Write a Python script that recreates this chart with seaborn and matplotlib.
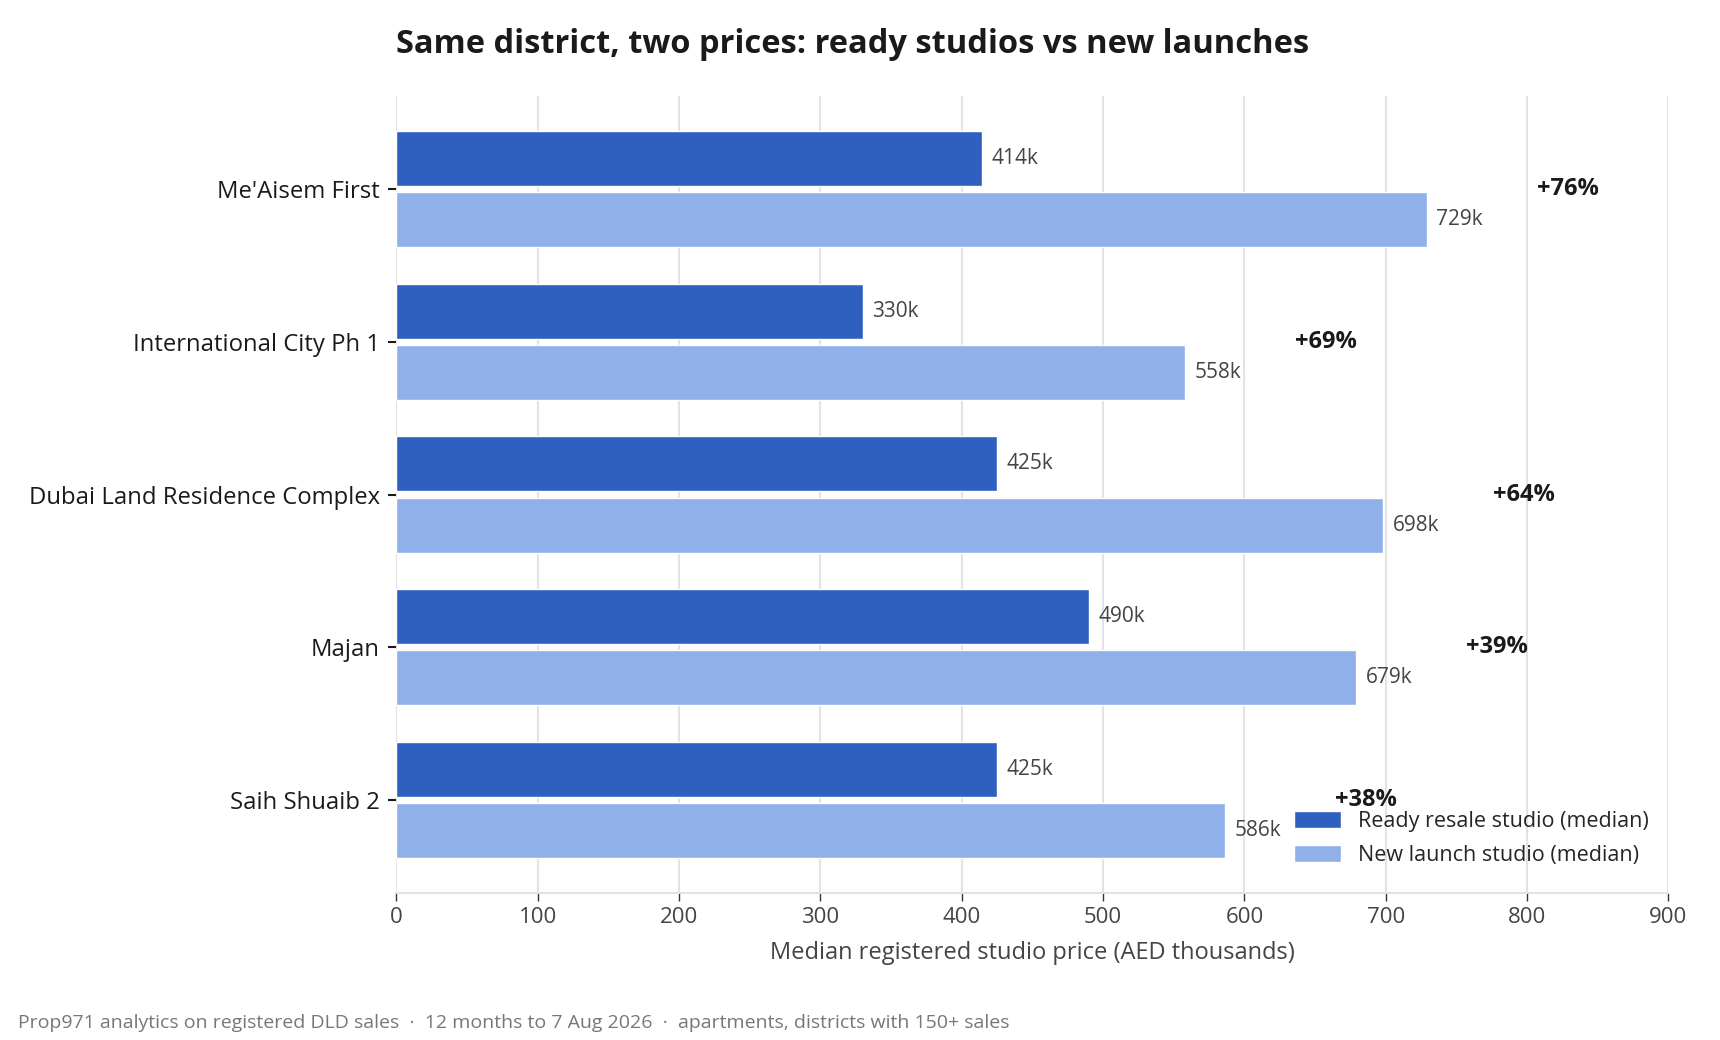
import matplotlib
matplotlib.use("Agg")
import matplotlib.pyplot as plt
import seaborn as sns
import pandas as pd

districts = ["Me'Aisem First", "International City Ph 1", "Dubai Land Residence Complex", "Majan", "Saih Shuaib 2"]
ready_vals = [414, 330, 425, 490, 425]
new_vals = [729, 558, 698, 679, 586]
pct_labels = ["+76%", "+69%", "+64%", "+39%", "+38%"]
series_names = ["Ready resale studio (median)", "New launch studio (median)"]
colors = ["#2f60bf", "#8fb0e8"]
x_ticks = [0, 100, 200, 300, 400, 500, 600, 700, 800, 900]

title = "Same district, two prices: ready studios vs new launches"
xlabel = "Median registered studio price (AED thousands)"
footer = "Prop971 analytics on registered DLD sales  \u00b7  12 months to 7 Aug 2026  \u00b7  apartments, districts with 150+ sales"

df = pd.DataFrame({
    "district": districts * 2,
    "value": ready_vals + new_vals,
    "series": [series_names[0]] * len(districts) + [series_names[1]] * len(districts),
})

sns.set_theme(style="white")
plt.rcParams["font.family"] = ["Open Sans", "DejaVu Sans"]

fig = plt.figure(figsize=(17.2, 10.4), dpi=100)
ax = fig.add_axes([0.2305, 0.141, 0.7395, 0.767])

sns.barplot(data=df, y="district", x="value", hue="series", order=districts,
            hue_order=series_names, palette=colors, orient="h", width=0.8, gap=0.1,
            saturation=1, ax=ax, zorder=2)

for cont in ax.containers:
    labels = [f"{int(round(v))}k" for v in cont.datavalues]
    ax.bar_label(cont, labels=labels, padding=7, fontsize=15, color="#444444")

for i, (nv, lab) in enumerate(zip(new_vals, pct_labels)):
    ax.text(nv + 78, i, lab, ha="left", va="center", fontsize=17, fontweight="bold", color="#1a1a1a")

ax.set_xlim(0, 900)
ax.set_ylim(len(districts) - 1 + 0.61, -0.61)
ax.set_xticks(x_ticks)
ax.set_xlabel(xlabel, fontsize=17, color="#444444", labelpad=10)
ax.set_ylabel("")
ax.tick_params(axis="x", labelsize=16, colors="#444444", length=6, width=1, bottom=True, color="#333333")
ax.tick_params(axis="y", labelsize=17.2, labelcolor="#1a1a1a", length=6, width=1.5, left=True, color="#1a1a1a", pad=6)
ax.grid(axis="x", color="#e3e3e3", linewidth=1.5, zorder=0)
ax.set_axisbelow(True)
for s in ["top", "right", "left"]:
    ax.spines[s].set_visible(False)
ax.spines["bottom"].set_color("#e3e3e3")
ax.spines["bottom"].set_linewidth(1.5)

leg = ax.legend(loc="lower right", frameon=False, fontsize=15.5, handlelength=2.2, handleheight=0.8,
                handletextpad=0.8, labelspacing=0.6, bbox_to_anchor=(1.0, 0.01))

fig.text(0.2305, 0.957, title, fontsize=23.5, fontweight="bold", color="#1a1a1a", ha="left", va="center")
fig.text(0.0105, 0.016, footer, fontsize=14, color="#777777", ha="left", va="center")

fig.savefig("out.png", dpi=100)
